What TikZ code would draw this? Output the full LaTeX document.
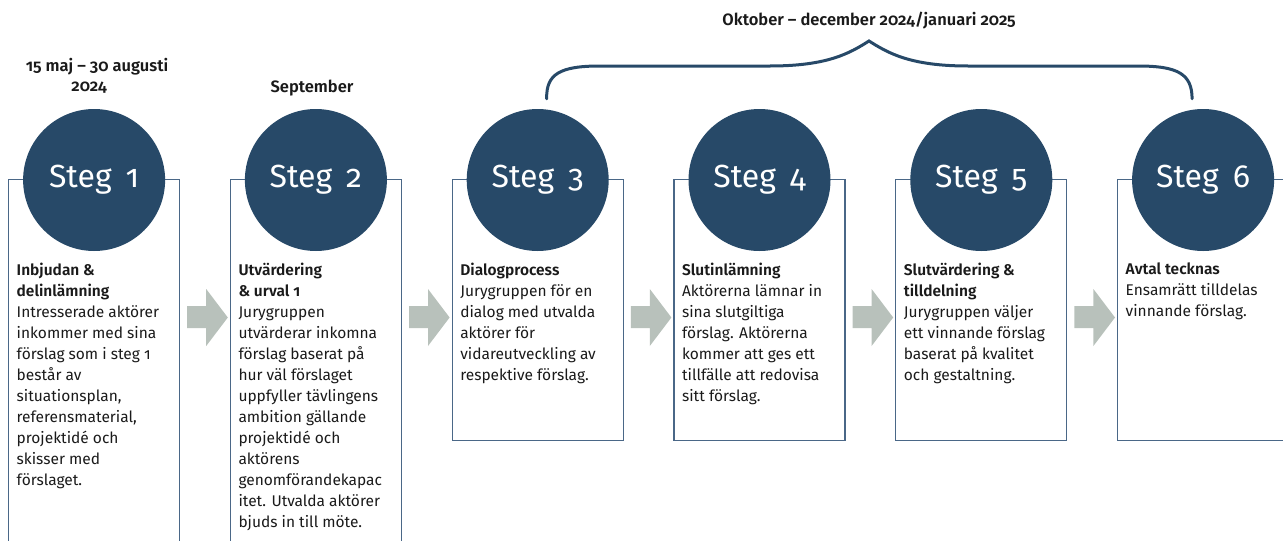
\documentclass[tikz,border=0pt]{standalone}
\usepackage{fontspec}
\setmainfont{Fira Sans}[Numbers=OldStyle, BoldFont={Fira Sans SemiBold}]
\usetikzlibrary{calc}
\definecolor{stepblue}{HTML}{274968}
\definecolor{boxline}{HTML}{4A6787}
\definecolor{arrowgrey}{HTML}{B8C1BB}
\definecolor{inktext}{HTML}{1A1A1A}
\tikzset{
  stepcircle/.style={circle, fill=stepblue, minimum size=142pt, inner sep=0pt,
    text=white, font=\fontsize{32}{32}\selectfont},
  stepbox/.style={draw=boxline, line width=1.2pt, rectangle, anchor=north west,
    minimum width=171pt, inner sep=0pt},
  boxtext/.style={anchor=north west, align=left, inner sep=0pt, text=inktext,
    font=\fontsize{15.5}{21}\selectfont},
  datelabel/.style={align=center, inner sep=0pt, text=inktext,
    font=\bfseries\fontsize{16.5}{20}\selectfont},
  flowarrow/.style={fill=arrowgrey},
  bracestyle/.style={draw=stepblue, line width=3pt, line cap=round}
}
\begin{document}
\begin{tikzpicture}[x=1pt, y=-1pt]
\useasboundingbox (0,0) rectangle (1283,541);
\clip (0,0) rectangle (1283,541);

% step boxes
\node[stepbox, minimum height=400pt] (b1) at (8,179) {};
\node[stepbox, minimum height=400pt] (b2) at (229.8,179) {};
\node[stepbox, minimum height=261pt] (b3) at (451.6,179) {};
\node[stepbox, minimum height=261pt] (b4) at (673.4,179) {};
\node[stepbox, minimum height=261pt] (b5) at (895.2,179) {};
\node[stepbox, minimum height=261pt] (b6) at (1117,179) {};

% step circles
\foreach \i in {1,...,6}
  \node[stepcircle] (c\i) at ($(b\i.north)+(0,1)$) {Steg\hspace{14pt}\i};

% block arrows between boxes
\foreach \a/\b in {b1/b2, b2/b3, b3/b4, b4/b5, b5/b6}
  \fill[flowarrow]
    ($(\a.north east)+(7,127)$) -- ($(\a.north east)+(26,127)$) --
    ($(\a.north east)+(26,110)$) -- ($(\b.north west)+(-2,138.5)$) --
    ($(\a.north east)+(26,167)$) -- ($(\a.north east)+(26,149)$) --
    ($(\a.north east)+(7,149)$) -- cycle;

% box texts
\node[boxtext] (t1) at ($(b1.north west)+(8.5,84)$)
  {\textbf{Inbjudan \&}\\ \textbf{delinlämning}\\ Intresserade aktörer\\ inkommer med sina\\
   förslag som i steg 1\\ består av\\ situationsplan,\\ referensmaterial,\\
   projektidé och\\ skisser med\\ förslaget.};
\node[boxtext] (t2) at ($(b2.north west)+(8.5,84)$)
  {\textbf{Utvärdering}\\ \textbf{\& urval 1}\\ Jurygruppen\\ utvärderar inkomna\\
   förslag baserat på\\ hur väl förslaget\\ uppfyller tävlingens\\ ambition gällande\\
   projektidé och\\ aktörens\\ genomförandekapac\\ itet. Utvalda aktörer\\ bjuds in till möte.};
\node[boxtext] (t3) at ($(b3.north west)+(8.5,84)$)
  {\textbf{Dialogprocess}\\ Jurygruppen för en\\ dialog med utvalda\\ aktörer för\\
   vidareutveckling av\\ respektive förslag.};
\node[boxtext] (t4) at ($(b4.north west)+(8.5,84)$)
  {\textbf{Slutinlämning}\\ Aktörerna lämnar in\\ sina slutgiltiga\\ förslag. Aktörerna\\
   kommer att ges ett\\ tillfälle att redovisa\\ sitt förslag.};
\node[boxtext] (t5) at ($(b5.north west)+(8.5,84)$)
  {\textbf{Slutvärdering \&}\\ \textbf{tilldelning}\\ Jurygruppen väljer\\ ett vinnande förslag\\
   baserat på kvalitet\\ och gestaltning.};
\node[boxtext] (t6) at ($(b6.north west)+(8.5,84)$)
  {\textbf{Avtal tecknas}\\ Ensamrätt tilldelas\\ vinnande förslag.};

% period labels
\node[datelabel] (d1) at (97,76) {15 maj – 30 augusti\\ 2024\hspace*{16pt}};
\node[datelabel] (d2) at (312,88) {September};
\node[datelabel] (d3) at (869,21) {Oktober – december 2024/januari 2025};

% brace spanning steps 3 to 6
\coordinate (bl) at ($(c3.north)+(9,-10)$);
\coordinate (br) at ($(c6.north)+(-11,-10)$);
\coordinate (bp) at (869,41);
\draw[bracestyle] (bl) .. controls (546,74) and (560,66) .. (600,66) -- (770,66)
  .. controls (828,66) and (850,53) .. (bp)
  .. controls (888,53) and (910,66) .. (968,66) -- (1138,66)
  .. controls (1178,66) and (1192,74) .. (br);
\end{tikzpicture}
\end{document}
